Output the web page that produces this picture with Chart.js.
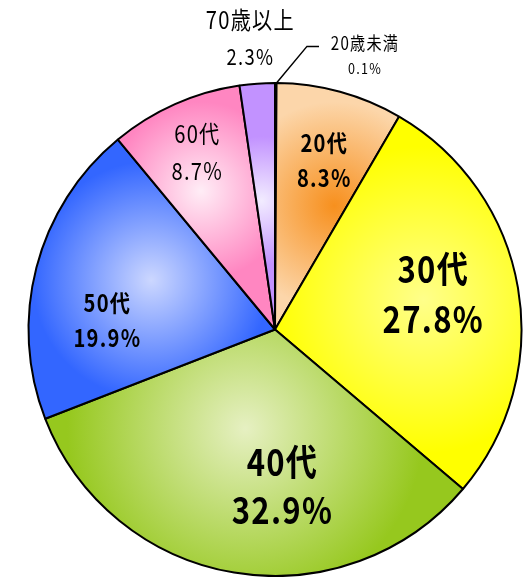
<!DOCTYPE html>
<html>
<head>
<meta charset="utf-8">
<script src="https://cdn.jsdelivr.net/npm/chart.js@4"></script>
<style>
  html, body { margin: 0; padding: 0; background: #fff; }
  #wrap { width: 528px; height: 577px; position: relative; }
</style>
</head>
<body>
<div id="wrap"><canvas id="pie"></canvas></div>
<script>
// age groups, clockwise from 12 o'clock
const categories = ['20歳未満', '20代', '30代', '40代', '50代', '60代', '70歳以上'];
const shares = [0.1, 8.3, 27.8, 32.9, 19.9, 8.7, 2.3];
const shareLabels = ['0.1%', '8.3%', '27.8%', '32.9%', '19.9%', '8.7%', '2.3%'];

// gradient look for each slice: inner colour, outer colour, where the inner spot sits (x/y as fraction of radius), reach
const shade = [
  { inner: '#FFFF77', outer: '#FFFF44', at: [0.01, -0.5], reach: 0.3 },
  { inner: '#F7901E', outer: '#FCD6AA', at: [0.24, -0.50], reach: 0.42 },
  { inner: '#FFFF8A', outer: '#FFFF00', at: [0.60, -0.12], reach: 0.62 },
  { inner: '#E6F0C2', outer: '#96C81E', at: [-0.12, 0.40], reach: 0.72 },
  { inner: '#CCD7FF', outer: '#3366FF', at: [-0.50, -0.20], reach: 0.48 },
  { inner: '#FFEDF6', outer: '#FF86C1', at: [-0.30, -0.56], reach: 0.36 },
  { inner: '#F2ECFF', outer: '#C292FF', at: [-0.055, -0.52], reach: 0.26 }
];

// label layout: anchor relative to pie centre in radius units, line gap px, fonts
const labelLayout = [
  { at: [0.365, -1.11], gap: 25, font: ['400 18px', '400 15px'] },
  { at: [0.20, -0.685], gap: 35, font: ['700 24px', '700 24px'] },
  { at: [0.642, -0.145], gap: 50, font: ['700 37px', '700 37px'] },
  { at: [0.03, 0.635], gap: 48, font: ['700 37px', '700 37px'] },
  { at: [-0.68, -0.035], gap: 35, font: ['700 24px', '700 24px'] },
  { at: [-0.315, -0.72], gap: 37, font: ['400 24px', '400 24px'] },
  { at: [-0.10, -1.18], gap: 37, font: ['400 24px', '400 22px'] }
];
const SQUEEZE = 0.84;

const FONT = '"Noto Sans CJK JP", "Noto Sans", sans-serif';

function sliceFill(ctx) {
  const s = shade[ctx.dataIndex];
  const area = ctx.chart.chartArea;
  if (!area) return s.outer;
  const cx = (area.left + area.right) / 2;
  const cy = (area.top + area.bottom) / 2;
  const r = Math.min(area.right - area.left, area.bottom - area.top) / 2;
  const gx = cx + s.at[0] * r, gy = cy + s.at[1] * r;
  const g = ctx.chart.ctx.createRadialGradient(gx, gy, 0, gx, gy, s.reach * r);
  g.addColorStop(0, s.inner);
  g.addColorStop(1, s.outer);
  return g;
}

function narrowText(c, text, x, y) {
  c.save();
  c.translate(x, y);
  c.scale(SQUEEZE, 1);
  c.letterSpacing = '1.5px';
  c.fillText(text, 0, 0);
  c.restore();
}

const labelPlugin = {
  id: 'sliceLabels',
  afterDraw(chart) {
    const c = chart.ctx;
    const arc = chart.getDatasetMeta(0).data[0];
    const cx = arc.x, cy = arc.y, r = arc.outerRadius;
    c.save();
    c.fillStyle = '#000';
    c.textAlign = 'center';
    c.textBaseline = 'middle';
    categories.forEach((name, i) => {
      const L = labelLayout[i];
      const x = cx + L.at[0] * r;
      const y = cy + L.at[1] * r;
      c.font = L.font[0] + ' ' + FONT;
      narrowText(c, name, x, y - L.gap / 2);
      c.font = L.font[1] + ' ' + FONT;
      narrowText(c, shareLabels[i], x, y + L.gap / 2);
    });
    // leader line for the tiny first slice
    const L0 = labelLayout[0];
    const tx = cx + L0.at[0] * r, ty = cy + L0.at[1] * r - L0.gap / 2;
    c.strokeStyle = '#000';
    c.lineWidth = 1.5;
    c.beginPath();
    c.moveTo(cx + 1.5, cy - r);
    c.lineTo(tx - 58, ty + 3);
    c.lineTo(tx - 46, ty + 3);
    c.stroke();
    c.restore();
  }
};

new Chart(document.getElementById('pie'), {
  type: 'pie',
  data: {
    labels: categories,
    datasets: [{
      data: shares,
      backgroundColor: sliceFill,
      borderColor: '#000',
      borderWidth: 2
    }]
  },
  options: {
    responsive: true,
    maintainAspectRatio: false,
    animation: false,
    layout: { padding: { top: 82, bottom: 0, left: 26, right: 4 } },
    plugins: {
      legend: { display: false },
      tooltip: { enabled: false }
    }
  },
  plugins: [labelPlugin]
});
</script>
</body>
</html>
